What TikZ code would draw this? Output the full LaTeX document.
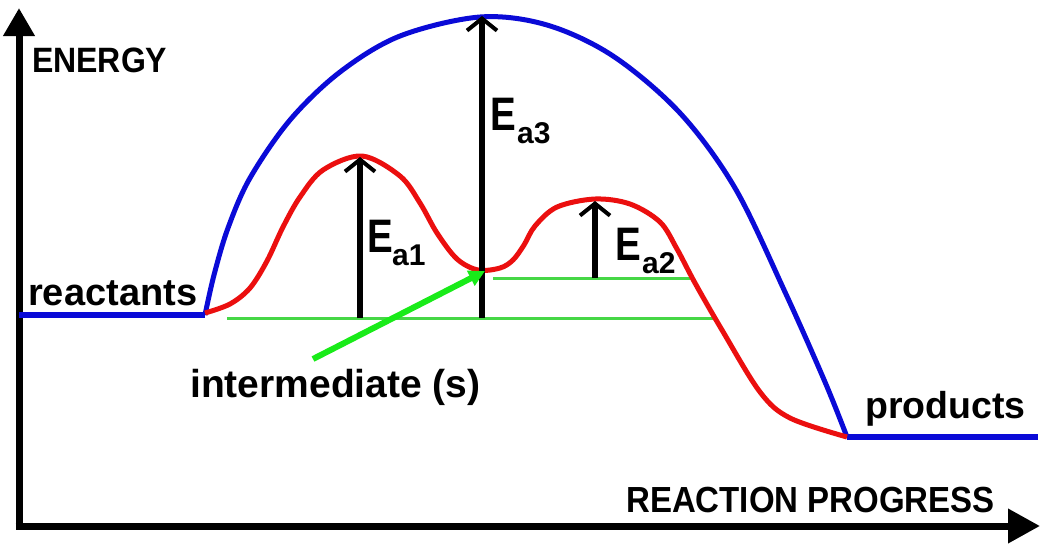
\documentclass[tikz,border=0pt]{standalone}
\usepackage{fontspec}
\setmainfont{Liberation Sans}
\usetikzlibrary{arrows.meta}
\definecolor{cblue}{RGB}{10,10,215}
\definecolor{cred}{RGB}{235,15,15}
\definecolor{cgreen}{RGB}{70,215,70}
\definecolor{cgreenarr}{RGB}{25,235,25}
\tikzset{
  axisline/.style={line width=7pt,-{Triangle[length=28pt,width=30pt]}},
  levelline/.style={cblue,line width=6pt},
  curveblue/.style={cblue,line width=5pt,line join=round},
  curvered/.style={cred,line width=5pt,line join=round},
  gline/.style={cgreen,line width=3pt},
  garrow/.style={cgreenarr,line width=6pt,-{Triangle[length=16pt,width=16pt]}},
  eaarrow/.style={black,line width=5.5pt,-{Straight Barb[length=12pt,width=30pt,line width=4pt]}},
  lowlabel/.style={anchor=base west,inner sep=0pt,font=\fontsize{38}{40}\selectfont\bfseries},
  caplabel/.style={anchor=base west,inner sep=0pt,yscale=1.1,font=\fontsize{32}{34}\selectfont\bfseries},
  elabel/.style={anchor=base west,inner sep=0pt,xscale=0.82,font=\fontsize{47}{50}\selectfont\bfseries},
  sublabel/.style={anchor=base west,inner sep=0pt,font=\fontsize{30}{32}\selectfont\bfseries}
}
\begin{document}
\begin{tikzpicture}[x=1pt,y=-1pt]
\useasboundingbox[fill=white] (0,0) rectangle (1053,550);
% coordinates
\coordinate (O) at (19,526);
\coordinate (ytip) at (19,8);
\coordinate (xtip) at (1040,526);
\coordinate (r0) at (19,315);
\coordinate (r1) at (205,315);
\coordinate (p0) at (847,437);
\coordinate (p1) at (1038,437);
\coordinate (g0) at (227,318);
\coordinate (g1) at (713,318);
\coordinate (h0) at (493,278);
\coordinate (h1) at (690,278);
\coordinate (b1) at (360,318);
\coordinate (t1) at (360,157);
\coordinate (b3) at (482,318);
\coordinate (t3) at (482,16);
\coordinate (b2) at (595,278);
\coordinate (t2) at (595,201);
\coordinate (ga0) at (313,359);
\coordinate (ga1) at (485,271);
% axes
\draw[axisline] (O) -- (ytip);
\draw[axisline,-{Triangle[length=32pt,width=33pt]}] ([xshift=-3.5pt]O) -- (xtip);
% levels
\draw[levelline] (r0) -- (r1);
\draw[levelline] (p0) -- (p1);
\draw[gline] (g0) -- (g1);
\draw[gline] (h0) -- (h1);
% curves
\draw[curveblue] plot[smooth,tension=0.55] coordinates {(205,315) (214,275) (228,228) (250,178) (290,120) (340,72) (400,36) (480,17) (547,25) (613,56) (680,113) (735,188) (785,292) (825,382) (847,437)};
\draw[curvered] plot[smooth,tension=0.55] coordinates {(205,313) (230,304) (250,288) (267,261) (283,227) (300,197) (323,170) (362,156) (400,176) (420,203) (437,233) (457,259) (478,270) (500,268) (513,260) (524,245) (535,226) (557,207) (595,199) (630,204) (660,222) (677,249) (695,283) (722,330) (760,392) (790,418) (847,437)};
% activation arrows
\draw[eaarrow] (b1) -- (t1);
\draw[eaarrow] (b3) -- (t3);
\draw[eaarrow] (b2) -- (t2);
\draw[garrow] (ga0) -- (ga1);
% labels
\node[caplabel] (energy) at (32,72) {ENERGY};
\node[caplabel,font=\fontsize{33}{34}\selectfont\bfseries] (progress) at (626,512) {REACTION PROGRESS};
\node[lowlabel] (reactants) at (28,305) {reactants};
\node[lowlabel,font=\fontsize{37.5}{40}\selectfont\bfseries] (products) at (865,418) {products};
\node[lowlabel,font=\fontsize{39}{40}\selectfont\bfseries] (inter) at (190,397) {intermediate (s)};
\node[elabel] (E1) at (367,252) {E};
\node[sublabel] (s1) at (392,265) {a1};
\node[elabel] (E3) at (490,130) {E};
\node[sublabel] (s3) at (517,143) {a3};
\node[elabel] (E2) at (615,260) {E};
\node[sublabel] (s2) at (642,273) {a2};
\end{tikzpicture}
\end{document}
